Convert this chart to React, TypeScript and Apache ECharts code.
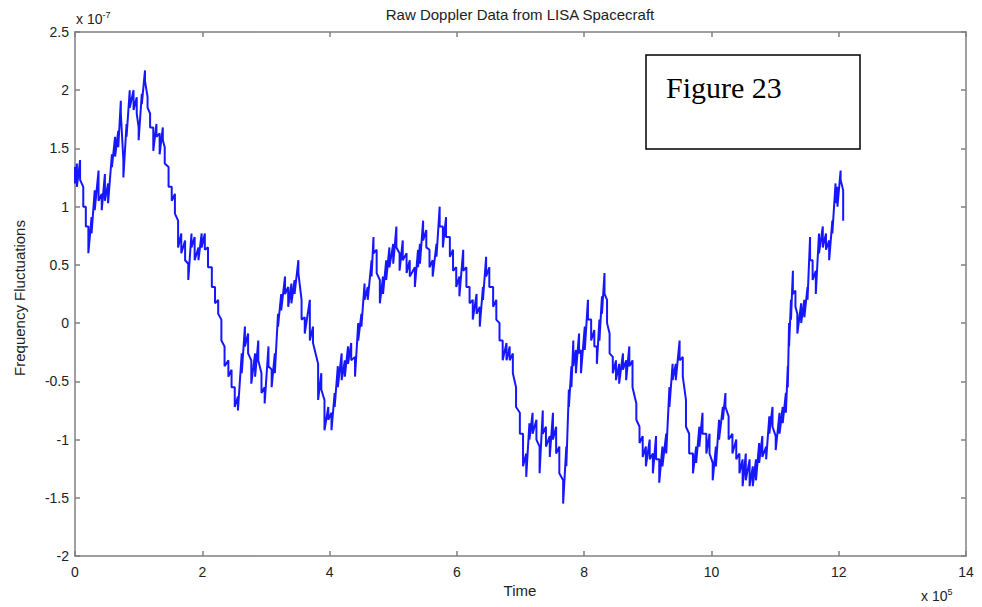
import React, { useEffect, useRef } from "react";
import * as echarts from "echarts";

// Time in units of 1e5, frequency fluctuations in units of 1e-7
const timeE5 = [
  0.0, 0.03, 0.08, 0.13, 0.17, 0.21, 0.26, 0.31, 0.37, 0.42, 0.47, 0.52, 0.58, 0.63, 0.68, 0.72, 0.76, 0.81, 0.86, 0.92,
  0.97, 1.0, 1.05, 1.1, 1.14, 1.18, 1.23, 1.28, 1.33, 1.38, 1.41, 1.47, 1.52, 1.57, 1.62, 1.67, 1.73, 1.78, 1.83, 1.88,
  1.94, 1.99, 2.04, 2.09, 2.15, 2.2, 2.25, 2.3, 2.35, 2.41, 2.46, 2.51, 2.56, 2.62, 2.67, 2.72, 2.77, 2.83, 2.88, 2.93,
  2.98, 3.04, 3.09, 3.14, 3.19, 3.24, 3.3, 3.35, 3.4, 3.45, 3.51, 3.56, 3.61, 3.69, 3.74, 3.82, 3.87, 3.92, 3.98, 4.03,
  4.08, 4.13, 4.19, 4.24, 4.29, 4.34, 4.4, 4.45, 4.5, 4.55, 4.6, 4.66, 4.69, 4.74, 4.79, 4.84, 4.89, 4.94, 5.0, 5.05,
  5.1, 5.15, 5.21, 5.26, 5.34, 5.39, 5.42, 5.47, 5.52, 5.57, 5.62, 5.68, 5.73, 5.78, 5.83, 5.89, 5.94, 5.99, 6.04, 6.1,
  6.15, 6.2, 6.25, 6.31, 6.36, 6.41, 6.46, 6.51, 6.57, 6.62, 6.67, 6.72, 6.78, 6.83, 6.88, 6.93, 6.99, 7.04, 7.09, 7.14,
  7.19, 7.25, 7.3, 7.35, 7.4, 7.46, 7.51, 7.56, 7.61, 7.67, 7.72, 7.76, 7.8, 7.83, 7.87, 7.92, 7.95, 8.01, 8.06, 8.11,
  8.16, 8.2, 8.24, 8.28, 8.32, 8.36, 8.4, 8.45, 8.5, 8.55, 8.61, 8.66, 8.71, 8.76, 8.82, 8.87, 8.92, 8.97, 9.03, 9.08,
  9.13, 9.18, 9.23, 9.29, 9.34, 9.39, 9.44, 9.5, 9.55, 9.6, 9.65, 9.71, 9.76, 9.81, 9.86, 9.92, 9.97, 10.02, 10.07, 10.12,
  10.18, 10.22, 10.27, 10.33, 10.39, 10.44, 10.49, 10.54, 10.6, 10.65, 10.7, 10.75, 10.8, 10.86, 10.91, 10.96, 11.01, 11.07, 11.12, 11.17,
  11.2, 11.22, 11.25, 11.28, 11.32, 11.35, 11.41, 11.46, 11.51, 11.55, 11.59, 11.64, 11.69, 11.75, 11.8, 11.85, 11.9, 11.95, 11.98, 12.03,
  12.07,
];

const upperE7 = [
  1.34, 1.37, 1.4, 1.17, 1.0, 0.83, 0.91, 1.14, 1.31, 1.11, 1.28, 1.2, 1.45, 1.6, 1.65, 1.91, 1.4, 1.71, 2.0, 2.0,
  1.94, 1.68, 1.97, 2.17, 1.94, 1.8, 1.68, 1.71, 1.63, 1.68, 1.51, 1.34, 1.17, 1.11, 0.88, 0.77, 0.71, 0.51, 0.77, 0.74,
  0.65, 0.77, 0.77, 0.65, 0.48, 0.31, 0.2, 0.03, -0.2, -0.32, -0.4, -0.55, -0.63, -0.26, -0.03, -0.09, -0.32, -0.26, -0.15, -0.43,
  -0.55, -0.2, -0.4, -0.26, 0.08, 0.25, 0.4, 0.31, 0.34, 0.37, 0.54, 0.2, 0.05, 0.2, -0.03, -0.35, -0.43, -0.66, -0.72, -0.77,
  -0.6, -0.37, -0.26, -0.32, -0.2, -0.17, -0.29, 0.0, 0.08, 0.34, 0.31, 0.54, 0.74, 0.63, 0.37, 0.4, 0.54, 0.65, 0.68, 0.83,
  0.6, 0.71, 0.6, 0.54, 0.48, 0.63, 0.68, 0.88, 0.8, 0.63, 0.54, 0.68, 1.0, 0.83, 0.91, 0.74, 0.63, 0.48, 0.4, 0.63,
  0.48, 0.31, 0.2, 0.25, 0.14, 0.31, 0.57, 0.48, 0.31, 0.2, 0.0, -0.15, -0.17, -0.2, -0.26, -0.55, -0.77, -0.95, -1.12, -0.86,
  -0.77, -0.83, -1.06, -0.75, -0.89, -0.97, -0.77, -0.89, -1.06, -1.35, -1.06, -0.57, -0.37, -0.15, -0.23, -0.09, -0.23, -0.03, 0.2, 0.03,
  -0.06, -0.2, 0.03, 0.23, 0.43, 0.2, -0.09, -0.29, -0.32, -0.35, -0.26, -0.32, -0.2, -0.32, -0.69, -0.89, -0.97, -1.06, -1.0, -1.12,
  -0.97, -1.17, -1.06, -0.95, -0.55, -0.35, -0.35, -0.15, -0.29, -0.66, -0.95, -1.12, -1.06, -0.89, -0.77, -0.95, -0.95, -1.2, -1.06, -0.83,
  -0.72, -0.6, -0.8, -0.95, -1.0, -1.12, -1.17, -1.12, -1.17, -1.23, -1.17, -1.03, -0.97, -1.06, -0.8, -0.72, -0.97, -0.77, -0.72, -0.6,
  -0.37, 0.0, 0.2, 0.45, 0.28, 0.08, 0.17, 0.2, 0.31, 0.74, 0.54, 0.45, 0.77, 0.83, 0.77, 0.71, 0.88, 1.2, 1.17, 1.31,
  1.14,
];

const lowerE7 = [
  1.2, 1.17, 1.23, 1.0, 0.83, 0.6, 0.77, 0.97, 1.05, 0.97, 1.05, 1.03, 1.34, 1.43, 1.51, 1.8, 1.25, 1.6, 1.85, 1.83,
  1.8, 1.57, 1.88, 2.08, 1.85, 1.68, 1.48, 1.6, 1.45, 1.57, 1.37, 1.17, 1.05, 0.94, 0.65, 0.6, 0.54, 0.37, 0.65, 0.54,
  0.54, 0.65, 0.63, 0.48, 0.31, 0.17, 0.08, -0.15, -0.37, -0.46, -0.55, -0.72, -0.75, -0.43, -0.2, -0.26, -0.52, -0.46, -0.32, -0.6,
  -0.69, -0.37, -0.55, -0.43, -0.03, 0.11, 0.25, 0.14, 0.17, 0.25, 0.43, 0.03, -0.09, -0.15, -0.17, -0.66, -0.57, -0.92, -0.83, -0.92,
  -0.72, -0.55, -0.49, -0.46, -0.35, -0.32, -0.46, -0.15, -0.03, 0.2, 0.2, 0.4, 0.6, 0.43, 0.17, 0.25, 0.37, 0.48, 0.51, 0.65,
  0.45, 0.54, 0.43, 0.4, 0.31, 0.48, 0.51, 0.71, 0.65, 0.48, 0.4, 0.57, 0.83, 0.65, 0.74, 0.57, 0.45, 0.31, 0.23, 0.45,
  0.31, 0.17, 0.03, 0.08, -0.03, 0.2, 0.4, 0.31, 0.14, 0.03, -0.15, -0.32, -0.32, -0.32, -0.43, -0.72, -0.95, -1.23, -1.32, -1.0,
  -0.95, -1.0, -1.29, -0.95, -1.06, -1.15, -1.0, -1.12, -1.29, -1.55, -1.23, -0.72, -0.55, -0.37, -0.43, -0.26, -0.43, -0.23, 0.03, -0.15,
  -0.2, -0.35, -0.15, 0.08, 0.25, 0.0, -0.26, -0.43, -0.49, -0.52, -0.4, -0.49, -0.37, -0.55, -0.83, -1.03, -1.15, -1.23, -1.17, -1.29,
  -1.17, -1.37, -1.23, -1.12, -0.72, -0.49, -0.49, -0.32, -0.46, -0.89, -1.12, -1.29, -1.2, -1.06, -0.95, -1.12, -1.12, -1.35, -1.23, -1.0,
  -0.83, -0.72, -1.0, -1.12, -1.17, -1.29, -1.4, -1.35, -1.4, -1.4, -1.35, -1.2, -1.15, -1.17, -0.95, -0.89, -1.09, -0.95, -0.86, -0.77,
  -0.55, -0.2, 0.03, 0.25, 0.14, -0.09, 0.0, 0.05, 0.2, 0.54, 0.37, 0.25, 0.6, 0.65, 0.63, 0.54, 0.77, 1.03, 1.0, 1.23,
  0.88,
];

const xTicks = { min: 0, max: 14, interval: 2 };
const yTicks = { min: -2, max: 2.5, interval: 0.5 };

const titleText = "Raw Doppler Data from LISA Spacecraft";
const xLabel = "Time";
const yLabel = "Frequency Fluctuations";
const boxLabel = "Figure 23";

export default function App() {
  const ref = useRef<HTMLDivElement>(null);

  useEffect(() => {
    if (!ref.current) return;
    const chart = echarts.init(ref.current, null, { renderer: "svg" });

    const lineData: [number, number][] = [];
    for (let i = 0; i < timeE5.length; i++) {
      lineData.push([timeE5[i], upperE7[i]]);
      lineData.push([timeE5[i], lowerE7[i]]);
    }

    const axisColor = "#808080";
    const sans = "Liberation Sans, Arial, sans-serif";
    const labelStyle = {
      color: "#222222",
      fontFamily: sans,
      fontSize: 14,
    };
    const baseAxis = {
      type: "value" as const,
      splitLine: { show: false },
      axisLine: { show: true, onZero: false, lineStyle: { color: axisColor, width: 1.5 } },
      axisTick: { show: true, inside: true, length: 5, lineStyle: { color: axisColor, width: 1.5 } },
    };

    chart.setOption({
      animation: false,
      backgroundColor: "#ffffff",
      grid: { left: 75, right: 16, top: 32, bottom: 51, containLabel: false },
      xAxis: [
        {
          ...baseAxis,
          position: "bottom",
          min: xTicks.min,
          max: xTicks.max,
          interval: xTicks.interval,
          axisLabel: { ...labelStyle, margin: 9 },
        },
        {
          ...baseAxis,
          position: "top",
          min: xTicks.min,
          max: xTicks.max,
          interval: xTicks.interval,
          axisLabel: { show: false },
        },
      ],
      yAxis: [
        {
          ...baseAxis,
          position: "left",
          min: yTicks.min,
          max: yTicks.max,
          interval: yTicks.interval,
          axisLabel: { ...labelStyle, margin: 6 },
        },
        {
          ...baseAxis,
          position: "right",
          min: yTicks.min,
          max: yTicks.max,
          interval: yTicks.interval,
          axisLabel: { show: false },
        },
      ],
      series: [
        {
          type: "line",
          xAxisIndex: 0,
          yAxisIndex: 0,
          data: lineData,
          showSymbol: false,
          symbol: "none",
          lineStyle: { color: "#1717ff", width: 2 },
          z: 3,
        },
      ],
      graphic: [
        {
          type: "text",
          x: 520,
          y: 14,
          style: {
            text: titleText,
            fill: "#222222",
            font: "15px Liberation Sans, Arial, sans-serif",
            align: "center",
            verticalAlign: "middle",
          },
        },
        {
          type: "text",
          x: 520,
          y: 590,
          style: {
            text: xLabel,
            fill: "#222222",
            font: "15px Liberation Sans, Arial, sans-serif",
            align: "center",
            verticalAlign: "middle",
          },
        },
        {
          type: "text",
          x: 19,
          y: 298,
          rotation: Math.PI / 2,
          style: {
            text: yLabel,
            fill: "#222222",
            font: "15px Liberation Sans, Arial, sans-serif",
            align: "center",
            verticalAlign: "middle",
          },
        },
        {
          type: "text",
          x: 76,
          y: 19,
          style: {
            text: "{a|x 10}{b|-7}",
            verticalAlign: "middle",
            rich: {
              a: { fontSize: 14, fontFamily: sans, fill: "#222222" },
              b: { fontSize: 9, fontFamily: sans, fill: "#222222", verticalAlign: "top", padding: [0, 0, 8, 0] },
            },
          },
        },
        {
          type: "text",
          x: 921,
          y: 596,
          style: {
            text: "{a|x 10}{b|5}",
            verticalAlign: "middle",
            rich: {
              a: { fontSize: 14, fontFamily: sans, fill: "#222222" },
              b: { fontSize: 9, fontFamily: sans, fill: "#222222", verticalAlign: "top", padding: [0, 0, 8, 0] },
            },
          },
        },
        {
          type: "rect",
          shape: { x: 646, y: 55, width: 214, height: 94 },
          style: { fill: "#ffffff", stroke: "#000000", lineWidth: 1.5 },
          z: 10,
        },
        {
          type: "text",
          x: 666,
          y: 87,
          z: 11,
          style: {
            text: boxLabel,
            fill: "#000000",
            font: "30px Liberation Serif, Times New Roman, serif",
            verticalAlign: "middle",
          },
        },
      ],
    });

    return () => chart.dispose();
  }, []);

  return (
    <div
      ref={ref}
      style={{ position: "fixed", left: 0, top: 0, width: 982, height: 607, background: "#fff" }}
    />
  );
}
